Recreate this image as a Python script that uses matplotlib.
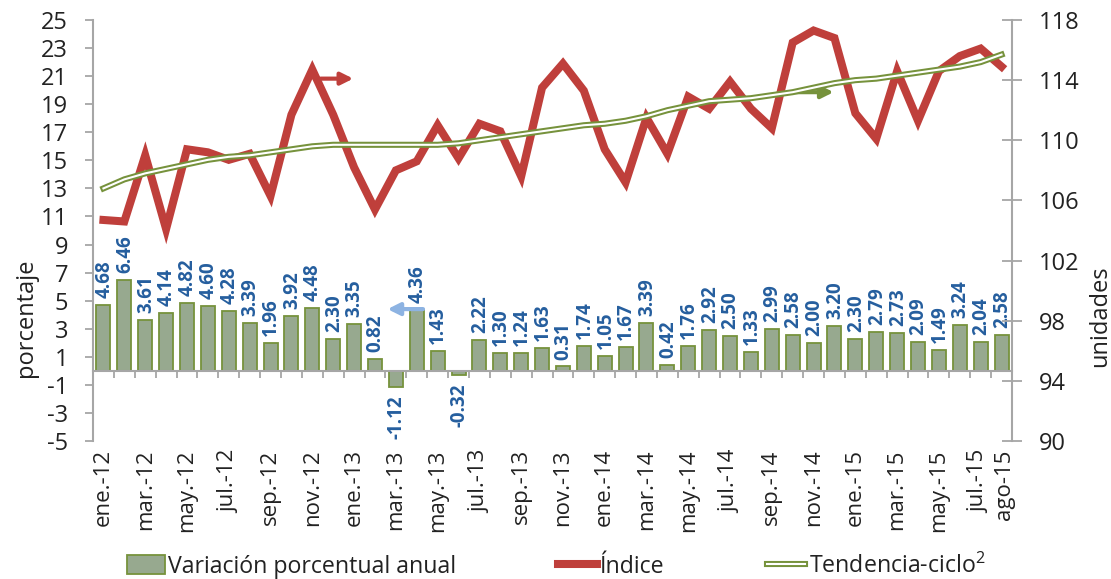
import matplotlib
matplotlib.use('Agg')
import matplotlib.pyplot as plt
import matplotlib.transforms as mtransforms
from matplotlib.lines import Line2D
from matplotlib.patches import Patch
import numpy as np

plt.rcParams['font.family'] = ['Open Sans', 'DejaVu Sans']
plt.rcParams['mathtext.fontset'] = 'custom'
plt.rcParams['mathtext.rm'] = 'Open Sans'
plt.rcParams['mathtext.it'] = 'Open Sans'
plt.rcParams['axes.unicode_minus'] = False

# ---------------- DATOS ----------------
meses = ['ene.-12', 'feb.-12', 'mar.-12', 'abr.-12', 'may.-12', 'jun.-12',
         'jul.-12', 'ago.-12', 'sep.-12', 'oct.-12', 'nov.-12', 'dic.-12',
         'ene.-13', 'feb.-13', 'mar.-13', 'abr.-13', 'may.-13', 'jun.-13',
         'jul.-13', 'ago.-13', 'sep.-13', 'oct.-13', 'nov.-13', 'dic.-13',
         'ene.-14', 'feb.-14', 'mar.-14', 'abr.-14', 'may.-14', 'jun.-14',
         'jul.-14', 'ago.-14', 'sep.-14', 'oct.-14', 'nov.-14', 'dic.-14',
         'ene.-15', 'feb.-15', 'mar.-15', 'abr.-15', 'may.-15', 'jun.-15',
         'jul.-15', 'ago-15']

variacion = [4.68, 6.46, 3.61, 4.14, 4.82, 4.60, 4.28, 3.39, 1.96, 3.92, 4.48, 2.30,
             3.35, 0.82, -1.12, 4.36, 1.43, -0.32, 2.22, 1.30, 1.24, 1.63, 0.31, 1.74,
             1.05, 1.67, 3.39, 0.42, 1.76, 2.92, 2.50, 1.33, 2.99, 2.58, 2.00, 3.20,
             2.30, 2.79, 2.73, 2.09, 1.49, 3.24, 2.04, 2.58]

indice = [104.7, 104.6, 109.0, 104.1, 109.4, 109.2, 108.7, 109.1, 106.3, 111.7, 114.7, 111.7,
          108.2, 105.4, 108.0, 108.6, 111.0, 108.8, 111.1, 110.6, 107.6, 113.5, 115.1, 113.3,
          109.4, 107.2, 111.5, 109.1, 112.9, 112.1, 113.9, 112.1, 110.8, 116.5, 117.3, 116.8,
          111.8, 110.1, 114.6, 111.3, 114.6, 115.6, 116.1, 114.9]

tendencia = [106.8, 107.4, 107.8, 108.1, 108.4, 108.7, 108.9, 109.0, 109.2, 109.4, 109.6, 109.7,
             109.7, 109.7, 109.7, 109.7, 109.7, 109.8, 110.0, 110.2, 110.4, 110.6, 110.8, 111.0,
             111.1, 111.3, 111.6, 112.0, 112.3, 112.6, 112.7, 112.8, 113.0, 113.2, 113.5, 113.8,
             114.0, 114.1, 114.3, 114.5, 114.7, 114.9, 115.2, 115.7]

# etiquetas del eje: cada dos meses y el ultimo
etiq_idx = list(range(0, 44, 2)) + [43]

# ---------------- COLORES ----------------
gris = '#A6A6A6'
verde_barra = '#97A98F'
verde_borde = '#76923C'
rojo = '#BF3F3B'
azul = '#255E9E'

x = np.arange(len(meses))

fig = plt.figure(figsize=(11.11, 5.79), dpi=100)
ax = fig.add_axes([93/1111, 1 - 441/579, (1012 - 93)/1111, (441 - 20)/579])
ax2 = ax.twinx()

# barras
ax.bar(x, variacion, width=0.67, color=verde_barra, edgecolor=verde_borde, linewidth=1.3, zorder=2)
for i, v in zip(x, variacion):
    if v >= 0:
        ax.annotate(f'{v:.2f}', (i, v), xytext=(0.5, 5), textcoords='offset points',
                    rotation=90, ha='center', va='bottom', fontsize=13.5,
                    fontweight='bold', color=azul)
    else:
        ax.annotate(f'{v:.2f}', (i, v), xytext=(0.5, -6), textcoords='offset points',
                    rotation=90, ha='center', va='top', fontsize=13.5,
                    fontweight='bold', color=azul)

ax.set_xlim(-0.5, len(meses) - 0.5)
ax.set_ylim(-5, 25)
ax.set_yticks(range(-5, 26, 2))
ax.tick_params(axis='y', colors=gris, labelcolor='#222222', labelsize=17,
               length=6, width=1.3, pad=12)
for s in ['top', 'right']:
    ax.spines[s].set_visible(False)
ax.spines['left'].set_color(gris)
ax.spines['left'].set_linewidth(1.5)
ax.spines['bottom'].set_position(('data', 0))
ax.spines['bottom'].set_color(gris)
ax.spines['bottom'].set_linewidth(1.5)
ax.set_xticks(np.arange(-0.5, len(meses), 1))
ax.tick_params(axis='x', colors=gris, length=5, width=1.3, labelbottom=False)

# etiquetas de meses abajo
secx = ax.secondary_xaxis('bottom')
secx.set_xticks([x[i] for i in etiq_idx])
secx.set_xticklabels([meses[i] for i in etiq_idx], rotation=90, fontsize=16, color='#222222')
secx.tick_params(length=0, pad=6)
secx.spines['bottom'].set_visible(False)
# separar un poco jul.-15 y ago-15
labs = secx.get_xticklabels()
labs[-2].set_transform(labs[-2].get_transform() + mtransforms.ScaledTranslation(-2/100, 0, fig.dpi_scale_trans))
labs[-1].set_transform(labs[-1].get_transform() + mtransforms.ScaledTranslation(3/100, 0, fig.dpi_scale_trans))

# eje derecho
ax2.plot(x, indice, color=rojo, linewidth=5.8, solid_joinstyle='miter', zorder=3)
ax2.plot(x, tendencia, color=verde_borde, linewidth=4.4, zorder=4)
ax2.plot(x, tendencia, color='white', linewidth=1.5, zorder=5)
ax2.set_ylim(90, 118)
ax2.set_yticks(range(90, 119, 4))
ax2.tick_params(axis='y', direction='inout', colors=gris, labelcolor='#222222',
                labelsize=17, length=14, width=1.3, pad=12)
for s in ['top', 'left', 'bottom']:
    ax2.spines[s].set_visible(False)
ax2.spines['right'].set_color(gris)
ax2.spines['right'].set_linewidth(1.5)

# flechas que indican el eje
ax2.annotate('', xy=(11.96, 114.1), xytext=(10.4, 114.1),
             arrowprops=dict(arrowstyle='-|>', color=rojo, lw=3, mutation_scale=18, shrinkA=0, shrinkB=0))
ax2.annotate('', xy=(34.96, 113.2), xytext=(33.0, 113.2),
             arrowprops=dict(arrowstyle='-|>', color=verde_borde, lw=3, mutation_scale=18, shrinkA=0, shrinkB=0))
ax.annotate('', xy=(13.6, 4.4), xytext=(15.3, 4.4),
            arrowprops=dict(arrowstyle='-|>', color='#8DB3E2', lw=3, mutation_scale=18, shrinkA=0, shrinkB=0),
            zorder=6)

# titulos de ejes
fig.text(26/1111, 1 - 318/579, 'porcentaje', rotation=90, ha='center', va='center',
         fontsize=17, color='#222222')
fig.text(1100/1111, 1 - 316/579, 'unidades', rotation=90, ha='center', va='center',
         fontsize=17, color='#222222')

# leyenda
h_barra = Patch(facecolor=verde_barra, edgecolor=verde_borde, linewidth=1.3)
h_rojo = Line2D([], [], color=rojo, linewidth=5.8)
h_tend = (Line2D([], [], color=verde_borde, linewidth=4.4), Line2D([], [], color='white', linewidth=1.5))
fig.legend([h_barra, h_rojo, h_tend],
           ['Variación porcentual anual', 'Índice', 'Tendencia-ciclo$^{2}$'],
           loc='center', bbox_to_anchor=(556/1111, 1 - 566/579), ncol=3, frameon=False,
           fontsize=16.7, handlelength=1.65, handletextpad=0.15, columnspacing=4.4,
           handleheight=0.9, labelcolor='#222222')

fig.savefig('out.png', dpi=100)
